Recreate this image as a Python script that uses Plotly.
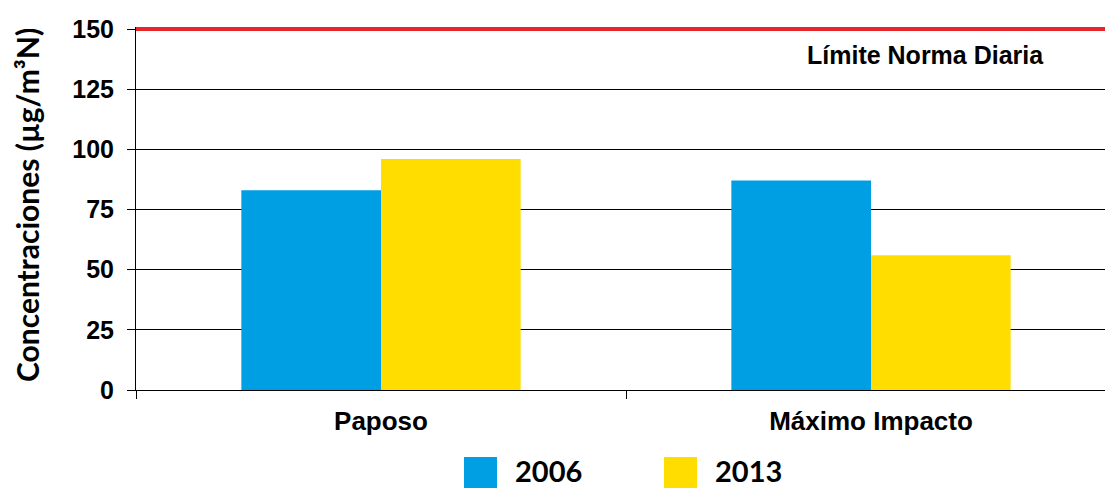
import plotly.graph_objects as go

categories = ["Paposo", "Máximo Impacto"]
years = ["2006", "2013"]
values_2006 = [83, 87]
values_2013 = [96, 56]
limit_value = 150
limit_label = "Límite Norma Diaria"
y_title = "Concentraciones (µg/m³N)"
y_ticks = [0, 25, 50, 75, 100, 125, 150]

colors = {"2006": "#009fe3", "2013": "#ffdd00"}

W, H = 1105, 488
ML, MT, MB, MR = 136, 27, 98, 0
plot_w = W - ML - MR
plot_h = H - MT - MB
px_per_unit = 361 / 150
y_top = plot_h / px_per_unit

fig = go.Figure()
fig.add_trace(go.Bar(x=categories, y=values_2006, name=years[0], marker_color=colors["2006"],
                     marker_line_width=0, showlegend=False))
fig.add_trace(go.Bar(x=categories, y=values_2013, name=years[1], marker_color=colors["2013"],
                     marker_line_width=0, showlegend=False))

arial = "Liberation Sans, Arial, sans-serif"
calibri = "Lato, Carlito, Calibri, sans-serif"

fig.update_layout(
    width=W, height=H,
    margin=dict(l=ML, r=MR, t=MT, b=MB),
    paper_bgcolor="white", plot_bgcolor="white",
    barmode="group", bargap=0.43, bargroupgap=0,
    xaxis=dict(
        type="category", range=[-0.5, -0.5 + plot_w / 490],
        showline=True, linecolor="black", linewidth=1,
        ticks="outside", tickson="boundaries", ticklen=8, tickcolor="black", tickwidth=1,
        tickfont=dict(family=arial, size=26, color="black", weight="bold"),
        ticklabelstandoff=8,
        showgrid=False,
    ),
    yaxis=dict(
        range=[0, y_top], tickvals=y_ticks,
        showline=True, linecolor="black", linewidth=1,
        ticks="outside", ticklen=8, tickcolor="black", tickwidth=1,
        tickfont=dict(family=arial, size=25, color="black", weight="bold"),
        ticklabelstandoff=8,
        showgrid=True, gridcolor="black", gridwidth=1,
        zeroline=False,
    ),
    showlegend=False,
)

# limit line
fig.add_shape(type="line", xref="paper", x0=0, x1=1, yref="y", y0=limit_value, y1=limit_value,
              line=dict(color="#e8262a", width=4), layer="above")
fig.add_annotation(text=limit_label, xref="paper", x=(925 - ML) / plot_w, xanchor="center",
                   yref="y", y=limit_value, yshift=-26, showarrow=False,
                   font=dict(family=arial, size=25, color="black", weight="bold"))

# y title
fig.add_annotation(text=y_title, xref="paper", x=0, xshift=-(ML - 27), xanchor="center",
                   yref="paper", y=(390 - 205) / plot_h, yanchor="middle",
                   textangle=-90, showarrow=False,
                   font=dict(family=calibri, size=30, color="black", weight="bold"))

# manual legend (paper coords; pixel helpers)
def py(p):
    return (H - MB - p) / plot_h

def pxx(p):
    return (p - ML) / plot_w

leg_x = [464, 664]
for i, yr in enumerate(years):
    fig.add_shape(type="rect", xref="paper", yref="paper",
                  x0=pxx(leg_x[i]), x1=pxx(leg_x[i] + 33),
                  y0=py(489), y1=py(457),
                  fillcolor=colors[yr], line_width=0)
    fig.add_annotation(text=yr, xref="paper", yref="paper",
                       x=pxx(leg_x[i] + 49), y=py(470),
                       xanchor="left", yanchor="middle", showarrow=False,
                       font=dict(family=calibri, size=29, color="black", weight="bold"))

fig.write_html("out.html", config={"displayModeBar": False},
               post_script="document.body.style.margin='0';document.body.style.overflow='hidden';")
